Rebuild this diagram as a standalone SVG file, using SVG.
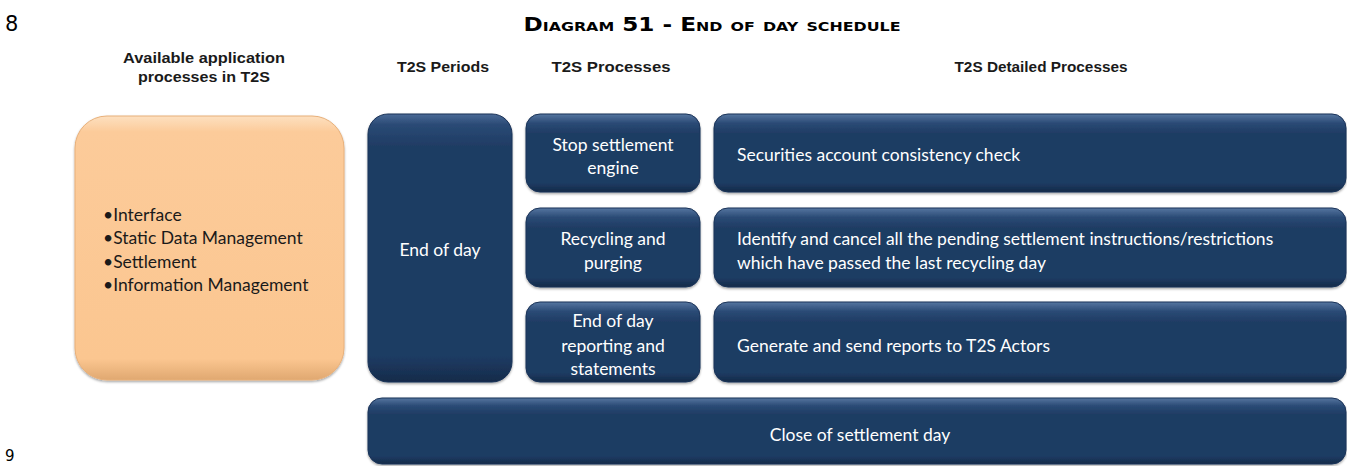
<svg xmlns="http://www.w3.org/2000/svg" width="1347" height="466" viewBox="0 0 1347 466">
<defs>
<linearGradient id="navy" x1="0" y1="0" x2="0" y2="1">
<stop offset="0" stop-color="#4a6a96"/>
<stop offset="0.04" stop-color="#2a4a75"/>
<stop offset="0.12" stop-color="#1f3c64"/>
<stop offset="0.9" stop-color="#1f3c64"/>
<stop offset="1" stop-color="#152b4a"/>
</linearGradient>
<linearGradient id="navyS" x1="0" y1="0" x2="0" y2="1">
<stop offset="0" stop-color="#5676a0"/>
<stop offset="0.12" stop-color="#2a4a75"/>
<stop offset="0.25" stop-color="#1f3c64"/>
<stop offset="0.88" stop-color="#1f3c64"/>
<stop offset="1" stop-color="#132a48"/>
</linearGradient>
<linearGradient id="orange" x1="0" y1="0" x2="0" y2="1">
<stop offset="0" stop-color="#fde0c0"/>
<stop offset="0.06" stop-color="#fccb9a"/>
<stop offset="0.92" stop-color="#fbc690"/>
<stop offset="1" stop-color="#e0a870"/>
</linearGradient>
<filter id="sh" x="-5%" y="-5%" width="110%" height="115%">
<feDropShadow dx="0" dy="1.5" stdDeviation="1.2" flood-color="#000" flood-opacity="0.35"/>
</filter>
<style>
.nav{fill:url(#navy);stroke:#1a3358;stroke-width:1;filter:url(#sh)}
.navS{fill:url(#navyS);stroke:#1a3358;stroke-width:1;filter:url(#sh)}
.hdr{font-family:"Liberation Sans",Arial,sans-serif;font-weight:bold;font-size:15px;fill:#1a1a1a;text-anchor:middle}
.w{font-family:Lato,"Open Sans",sans-serif;font-size:17.5px;fill:#ffffff}
.wc{font-family:Lato,"Open Sans",sans-serif;font-size:17.5px;fill:#ffffff;text-anchor:middle}
.k{font-family:Lato,"Open Sans",sans-serif;font-size:17.5px;fill:#1a1a1a}
</style>
</defs>
<rect width="1347" height="466" fill="#ffffff"/>
<text x="5" y="31" font-family="DejaVu Sans,sans-serif" font-size="21" fill="#000">8</text>
<text x="5" y="461" font-family="DejaVu Sans,sans-serif" font-size="15" fill="#000">9</text>
<text x="712" y="31" text-anchor="middle" font-family="DejaVu Sans,Verdana,sans-serif" font-weight="bold" font-size="19" font-variant="small-caps" fill="#000" textLength="377" lengthAdjust="spacingAndGlyphs">Diagram 51 - End of day schedule</text>

<g id="headers">
<text class="hdr" x="204" y="63" textLength="162" lengthAdjust="spacingAndGlyphs">Available application</text>
<text class="hdr" x="204" y="82" textLength="132" lengthAdjust="spacingAndGlyphs">processes in T2S</text>
<text class="hdr" x="443" y="72" textLength="92" lengthAdjust="spacingAndGlyphs">T2S Periods</text>
<text class="hdr" x="611" y="72" textLength="119" lengthAdjust="spacingAndGlyphs">T2S Processes</text>
<text class="hdr" x="1041" y="72" textLength="173" lengthAdjust="spacingAndGlyphs">T2S Detailed Processes</text>
</g>

<g id="node-apps">
<rect x="75" y="116" width="269" height="264" rx="32" fill="url(#orange)" stroke="#e8b07a" stroke-width="1" filter="url(#sh)"/>
<text class="k" x="103" y="221">•Interface</text>
<text class="k" x="103" y="244">•Static Data Management</text>
<text class="k" x="103" y="268">•Settlement</text>
<text class="k" x="103" y="291">•Information Management</text>
</g>

<g id="node-endofday">
<rect class="nav" x="368" y="114" width="144" height="268" rx="20"/>
<text class="wc" x="440" y="256">End of day</text>
</g>

<g id="node-stop">
<rect class="navS" x="526" y="114" width="174" height="78" rx="14"/>
<text class="wc" x="613" y="151">Stop  settlement</text>
<text class="wc" x="613" y="174">engine</text>
</g>
<g id="node-recycling">
<rect class="navS" x="526" y="208" width="174" height="79" rx="14"/>
<text class="wc" x="613" y="245">Recycling and</text>
<text class="wc" x="613" y="269">purging</text>
</g>
<g id="node-reporting">
<rect class="navS" x="526" y="302" width="174" height="80" rx="14"/>
<text class="wc" x="613" y="327">End of day</text>
<text class="wc" x="613" y="352">reporting and</text>
<text class="wc" x="613" y="375">statements</text>
</g>

<g id="node-detail1">
<rect class="navS" x="714" y="114" width="632" height="78" rx="14"/>
<text class="w" x="737" y="161">Securities account  consistency check</text>
</g>
<g id="node-detail2">
<rect class="navS" x="714" y="208" width="632" height="79" rx="14"/>
<text class="w" x="737" y="245">Identify and cancel all the pending settlement instructions/restrictions</text>
<text class="w" x="737" y="269">which have passed the last recycling day</text>
</g>
<g id="node-detail3">
<rect class="navS" x="714" y="302" width="632" height="80" rx="14"/>
<text class="w" x="737" y="352">Generate and send reports to T2S Actors</text>
</g>

<g id="node-close">
<rect class="navS" x="368" y="398" width="978" height="66" rx="14"/>
<text class="wc" x="860" y="441">Close of  settlement day</text>
</g>

<g id="connectors"></g>
</svg>
